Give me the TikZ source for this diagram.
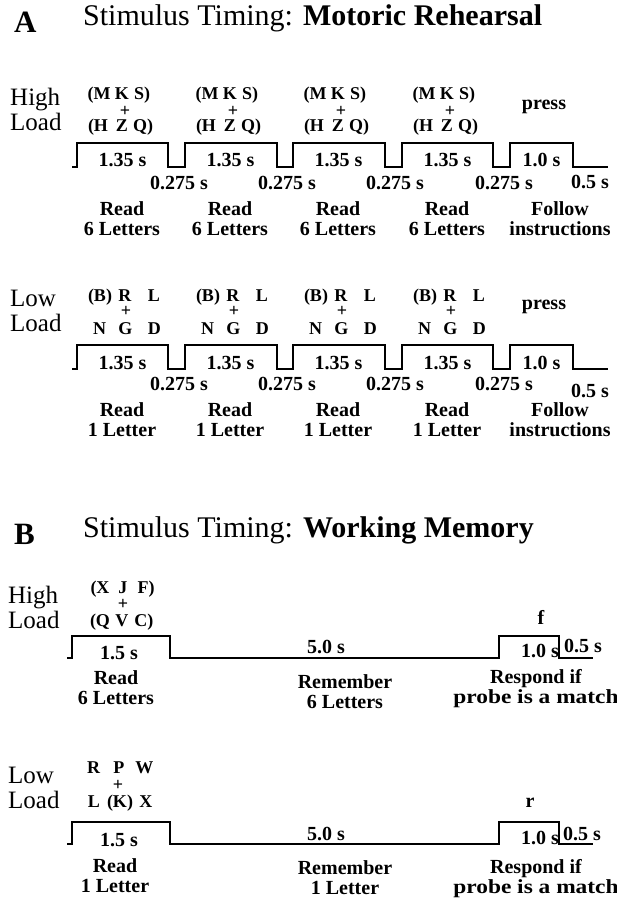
\documentclass[tikz,border=0pt]{standalone}
\usepackage{fontspec}
\setmainfont{Liberation Serif}
\newcommand{\lt}[2][16pt]{\makebox[#1]{#2}}
\begin{document}
\begin{tikzpicture}[x=1pt,y=-1pt,line join=miter]
	\tikzset{every node/.style={inner sep=0pt,anchor=base},
		lbl/.style={font=\bfseries\fontsize{20}{20}\selectfont,align=center},
		stim/.style={font=\bfseries\fontsize{18}{18}\selectfont},
		plus/.style={stim,anchor=center},
		load/.style={font=\fontsize{25}{25}\selectfont,align=left,anchor=base west},
		head/.style={font=\fontsize{30}{30}\selectfont,anchor=base west},
		panel/.style={font=\bfseries\fontsize{31}{31}\selectfont,anchor=base west},
		wave/.style={line width=2pt}}
	\useasboundingbox (0,0) rectangle (617,900);
	% A: motoric rehearsal
	\node[panel] (pA) at (14,32) {A};
	\node[head] (tA) at (83,25) {Stimulus Timing: \textbf{Motoric Rehearsal}};
	\node[load] (hiA) at (10,130) {High\\Load};
	\node[load] (loA) at (10,331) {Low\\Load};
	\foreach \dy in {0,202}
	\draw[wave,shift={(0,\dy)}] (72,167) foreach \s/\e in {77/168,185/277,293/385,402/493,510/573}
		{-- (\s,167) -- (\s,143) -- (\e,143) -- (\e,167)} -- (608,167);
	\foreach \s/\n in {77/1,185/2,293/3,402/4} {
		\node[stim] (hs\n) at (\s+42,99) {\lt[30pt]{(M}\lt{K}\lt[24pt]{S)}};
		\node[plus] (hp\n) at (\s+48,111) {+};
		\node[stim] (hq\n) at (\s+42,131) {\lt[32pt]{(H}\lt{Z}\lt[26pt]{Q)}};
		\node[lbl] (hd\n) at (\s+45.5,166) {1.35 s};
		\node[lbl] (hg\n) at (\s+102,189) {0.275 s};
		\node[lbl] (hr\n) at (\s+45,235) {Read\\6 Letters};
		\node[stim] (ls\n) at (\s+52,301) {\lt[34pt]{(B)}\lt{R}\lt[42pt]{L}};
		\node[plus] (lp\n) at (\s+49,311) {+};
		\node[stim] (lq\n) at (\s+51.5,334) {\lt[36pt]{N}\lt{G}\lt[42pt]{D}};
		\node[lbl] (ld\n) at (\s+45.5,369) {1.35 s};
		\node[lbl] (lg\n) at (\s+102,390) {0.275 s};
		\node[lbl] (lr\n) at (\s+45,436) {Read\\1 Letter};
	}
	\node[lbl] (hpr) at (544,109) {press};
	\node[lbl] (hd5) at (541.5,166) {1.0 s};
	\node[lbl] (hend) at (590,188) {0.5 s};
	\node[lbl] (hfo) at (560,235) {Follow\\instructions};
	\node[lbl] (lpr) at (544,309) {press};
	\node[lbl] (ld5) at (541.5,369) {1.0 s};
	\node[lbl] (lend) at (590,397) {0.5 s};
	\node[lbl] (lfo) at (560,436) {Follow\\instructions};
	% B: working memory
	\node[panel] (pB) at (14,544) {B};
	\node[head] (tB) at (83,537) {Stimulus Timing: \textbf{Working Memory}};
	\node[load] (hiB) at (8,628) {High\\Load};
	\node[load] (loB) at (8,808) {Low\\Load};
	\foreach \dy in {0,186}
	\draw[wave,shift={(0,\dy)}] (67,658) -- (72,658) -- (72,636) -- (170,636) -- (170,658)
		-- (499,658) -- (499,636) -- (559,636) -- (559,658) -- (593,658);
	\node[stim] (hsB) at (123,593) {\lt[30pt]{(X}\lt{J}\lt[30pt]{F)}};
	\node[plus] (hpB) at (123,604) {+};
	\node[stim] (hqB) at (122,626) {\lt[28pt]{(Q}\lt{V}\lt[28pt]{C)}};
	\node[lbl] (hdB) at (119,659) {1.5 s};
	\node[lbl] (hmB) at (326,653) {5.0 s};
	\node[lbl] (hcB) at (540,657) {1.0 s};
	\node[lbl] (heB) at (583,652) {0.5 s};
	\node[lbl] (hkB) at (541,624) {f};
	\node[lbl] (hrB) at (116,704) {Read\\6 Letters};
	\node[lbl] (hwB) at (345,708) {Remember\\6 Letters};
	\node[lbl] (hxB) at (536,703) {Respond if\\\scalebox{1.17}[1]{probe is a match}};
	\node[stim] (lsB) at (119,773) {\lt[35pt]{R}\lt{P}\lt[35pt]{W}};
	\node[plus] (lpB) at (118,785) {+};
	\node[stim] (lqB) at (120,807) {\lt[36pt]{L}\lt{(K)}\lt[36pt]{X}};
	\node[lbl] (ldB) at (119,846) {1.5 s};
	\node[lbl] (lmB) at (326,840) {5.0 s};
	\node[lbl] (lcB) at (540,844) {1.0 s};
	\node[lbl] (leB) at (582,840) {0.5 s};
	\node[lbl] (lkB) at (530,807) {r};
	\node[lbl] (lrB) at (115,892) {Read\\1 Letter};
	\node[lbl] (lwB) at (345,894) {Remember\\1 Letter};
	\node[lbl] (lxB) at (536,893) {Respond if\\\scalebox{1.17}[1]{probe is a match}};
\end{tikzpicture}
\end{document}
